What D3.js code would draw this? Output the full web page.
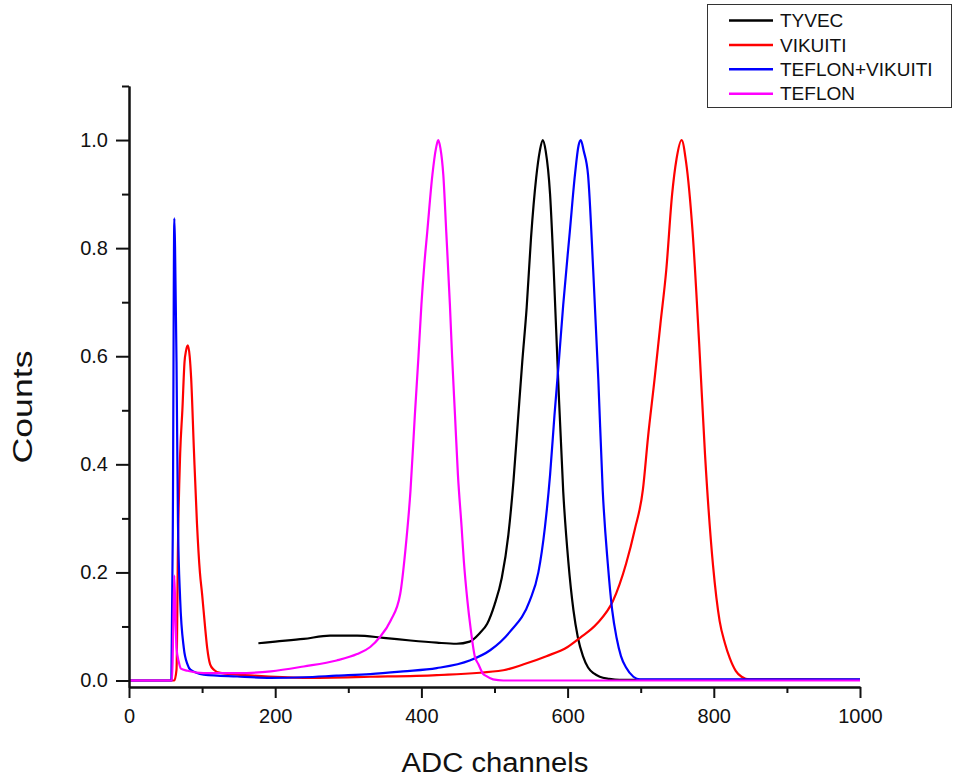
<!DOCTYPE html>
<html>
<head>
<meta charset="utf-8">
<script src="https://cdn.jsdelivr.net/npm/d3@7"></script>
<style>
  body { margin: 0; background: #fff; }
  svg { font-family: "Liberation Sans", Arial, sans-serif; }
</style>
</head>
<body>
<svg id="spectra" width="957" height="784"></svg>
<script>
// Spectra: [ADC channel, normalised counts]
const tyvec = [
  [177, 0.069], [200, 0.072], [239, 0.077], [275, 0.083], [312, 0.083], [348, 0.079],
  [385, 0.074], [421, 0.070], [448, 0.068], [466, 0.072], [480, 0.088], [490, 0.105],
  [500, 0.14], [510, 0.19], [519, 0.27], [526, 0.37], [532, 0.48], [538, 0.59],
  [544, 0.69], [550, 0.82], [557, 0.93], [562, 0.98], [566, 1.0], [570, 0.98],
  [576, 0.90], [581, 0.76], [587, 0.56], [594, 0.35], [601, 0.22], [608, 0.13],
  [614, 0.08], [621, 0.045], [628, 0.024], [636, 0.013], [644, 0.007], [657, 0.003],
  [671, 0.001], [700, 0.001], [1000, 0.001]
];
const vikuiti = [
  [0, 0], [62, 0], [65, 0.02], [67, 0.25], [70, 0.42], [73, 0.50], [76, 0.59],
  [78, 0.61], [80.5, 0.62], [83, 0.60], [85, 0.56], [88.7, 0.43], [93, 0.29],
  [97, 0.20], [100, 0.16], [104, 0.10], [107, 0.06], [111, 0.03], [116, 0.02],
  [125, 0.014], [170, 0.009], [239, 0.005], [330, 0.007], [421, 0.010], [512, 0.019],
  [540, 0.030], [571, 0.045], [600, 0.062], [617, 0.079], [640, 0.105], [662, 0.147],
  [680, 0.216], [692, 0.28], [703, 0.353], [710, 0.45], [719, 0.558], [727, 0.66],
  [735, 0.76], [743, 0.90], [749, 0.965], [756, 1.0], [762, 0.96], [771, 0.83],
  [780, 0.623], [788, 0.418], [799, 0.212], [808, 0.11], [815, 0.07], [822, 0.041],
  [830, 0.018], [838, 0.007], [849, 0.002], [900, 0.002], [1000, 0.001]
];
const teflonVikuiti = [
  [0, 0], [58, 0], [60, 0.3], [62, 0.855], [63, 0.80], [65, 0.59], [67, 0.29],
  [70, 0.15], [75, 0.06], [80, 0.03], [84, 0.02], [102, 0.011], [148, 0.0074],
  [194, 0.005], [239, 0.006], [284, 0.009], [330, 0.012], [375, 0.017], [421, 0.023],
  [466, 0.037], [494, 0.056], [521, 0.09], [548, 0.147], [560, 0.2], [569, 0.284],
  [576, 0.38], [582, 0.49], [588, 0.59], [594, 0.695], [603, 0.83], [610, 0.935],
  [615, 0.99], [618, 1.0], [622, 0.98], [628, 0.935], [635, 0.76], [642, 0.558],
  [648, 0.353], [655, 0.216], [661, 0.13], [667, 0.079], [673, 0.045], [680, 0.024],
  [690, 0.007], [699, 0.002], [750, 0.002], [1000, 0.002]
];
const teflon = [
  [0, 0], [59, 0], [60.5, 0.1], [62, 0.194], [63.5, 0.12], [65, 0.06], [68, 0.035],
  [71, 0.022], [80, 0.018], [102, 0.0136], [148, 0.0136], [194, 0.017], [239, 0.026],
  [284, 0.037], [312, 0.049], [330, 0.062], [343, 0.08], [358, 0.111], [371, 0.16],
  [378, 0.24], [385, 0.35], [391, 0.49], [396, 0.60], [400, 0.695], [404, 0.77],
  [408, 0.83], [415, 0.935], [420, 0.985], [423, 1.0], [426, 0.985], [430, 0.935],
  [434, 0.83], [439, 0.695], [442, 0.60], [446, 0.49], [450, 0.38], [455, 0.284],
  [458, 0.222], [463, 0.147], [467, 0.10], [473, 0.045], [478, 0.03], [484, 0.013],
  [489, 0.008], [498, 0.002], [512, 0], [1000, 0]
];

const seriesNames = ['TYVEC', 'VIKUITI', 'TEFLON+VIKUITI', 'TEFLON'];
const seriesColors = ['#000000', '#ff0000', '#0000ff', '#ff00ff'];
const seriesData = [tyvec, vikuiti, teflonVikuiti, teflon];

const xMajorTicks = [0, 200, 400, 600, 800, 1000];
const xMinorTicks = [100, 300, 500, 700, 900];
const yMajorTicks = [0, 0.2, 0.4, 0.6, 0.8, 1.0];
const yMinorTicks = [0.1, 0.3, 0.5, 0.7, 0.9, 1.1];

const svg = d3.select('svg#spectra');
const margin = {top: 86, left: 129, right: 97, bottom: 97};
const width = +svg.attr('width');
const height = +svg.attr('height');

const xScale = d3.scaleLinear()
    .domain([0, 1000])
    .range([margin.left, width - margin.right]);
const yScale = d3.scaleLinear()
    .domain([-0.012, 1.1])
    .range([height - margin.bottom, margin.top]);

//curves
const line = d3.line()
    .x(d => xScale(d[0]))
    .y(d => yScale(d[1]))
    .curve(d3.curveMonotoneX);

svg.append('g').selectAll('path')
    .data(seriesData)
    .enter().append('path')
    .attr('d', line)
    .attr('fill', 'none')
    .attr('stroke', (d, i) => seriesColors[i])
    .attr('stroke-width', 2.2)
    .attr('stroke-linejoin', 'round');

//axes
const xAxisY = yScale(-0.012);
const styleAxis = g => {
    g.selectAll('path, line').attr('stroke', '#111').attr('stroke-width', 2);
    g.selectAll('text').attr('fill', '#111').attr('font-size', 20)
        .attr('font-family', '"Liberation Sans", Arial, sans-serif');
};

svg.append('g')
    .attr('transform', `translate(0, ${xAxisY})`)
    .call(d3.axisBottom(xScale).tickValues(xMinorTicks).tickSize(6).tickSizeOuter(0).tickFormat(''))
    .call(styleAxis);
svg.append('g')
    .attr('transform', `translate(0, ${xAxisY})`)
    .call(d3.axisBottom(xScale).tickValues(xMajorTicks).tickSize(11).tickPadding(11)
        .tickSizeOuter(0).tickFormat(d3.format('d')))
    .call(styleAxis);

svg.append('g')
    .attr('transform', `translate(${margin.left}, 0)`)
    .call(d3.axisLeft(yScale).tickValues(yMinorTicks).tickSize(7).tickSizeOuter(0).tickFormat(''))
    .call(styleAxis);
svg.append('g')
    .attr('transform', `translate(${margin.left}, 0)`)
    .call(d3.axisLeft(yScale).tickValues(yMajorTicks).tickSize(13).tickPadding(8)
        .tickSizeOuter(0).tickFormat(d3.format('.1f')))
    .call(styleAxis);

//axis titles
svg.append('text')
    .attr('x', 495)
    .attr('y', 772)
    .attr('text-anchor', 'middle')
    .attr('font-size', 27)
    .attr('fill', '#111')
    .attr('textLength', 187)
    .attr('lengthAdjust', 'spacingAndGlyphs')
    .text('ADC channels');

svg.append('text')
    .attr('transform', 'translate(32, 407) rotate(-90)')
    .attr('text-anchor', 'middle')
    .attr('font-size', 27)
    .attr('fill', '#111')
    .attr('textLength', 113)
    .attr('lengthAdjust', 'spacingAndGlyphs')
    .text('Counts');

//legend
const legend = svg.append('g');
legend.append('rect')
    .attr('x', 707.5).attr('y', 4.5)
    .attr('width', 244).attr('height', 103)
    .attr('fill', '#fff')
    .attr('stroke', '#333')
    .attr('stroke-width', 1);

const rowY = d3.scalePoint().domain(seriesNames).range([20.5, 93.7]);
const rows = legend.selectAll('g.row')
    .data(seriesNames)
    .enter().append('g')
    .attr('class', 'row')
    .attr('transform', d => `translate(0, ${rowY(d)})`);
rows.append('line')
    .attr('x1', 729).attr('x2', 773)
    .attr('stroke', (d, i) => seriesColors[i])
    .attr('stroke-width', 2.5);
rows.append('text')
    .attr('x', 780)
    .attr('dy', '0.35em')
    .attr('font-size', 19)
    .attr('fill', '#111')
    .text(d => d);
</script>
</body>
</html>
